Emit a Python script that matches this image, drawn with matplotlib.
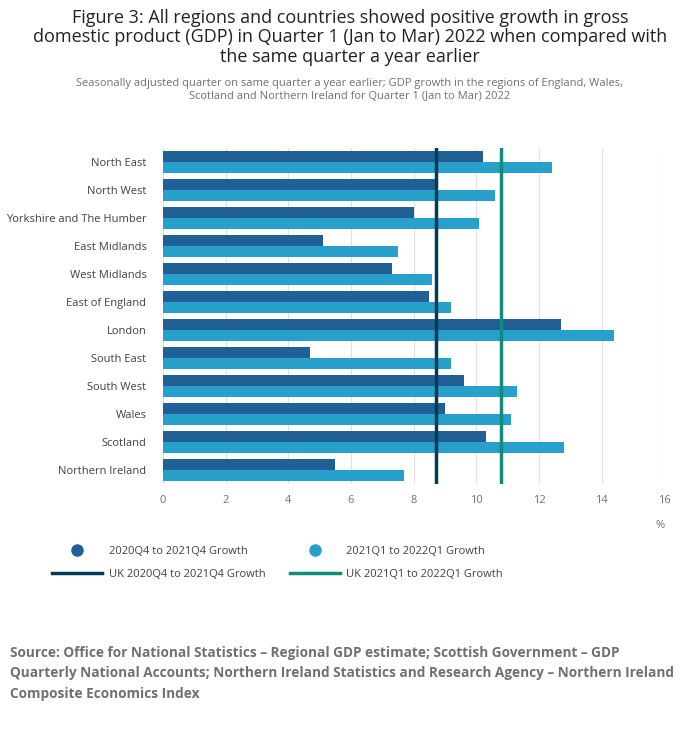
import matplotlib.pyplot as plt
from matplotlib.lines import Line2D
import numpy as np

plt.rcParams['font.family'] = ['Open Sans', 'DejaVu Sans']

regions = ['North East', 'North West', 'Yorkshire and The Humber', 'East Midlands',
           'West Midlands', 'East of England', 'London', 'South East', 'South West',
           'Wales', 'Scotland', 'Northern Ireland']
growth_2021q4 = [10.2, 8.7, 8.0, 5.1, 7.3, 8.5, 12.7, 4.7, 9.6, 9.0, 10.3, 5.5]
growth_2022q1 = [12.4, 10.6, 10.1, 7.5, 8.6, 9.2, 14.4, 9.2, 11.3, 11.1, 12.8, 7.7]
uk_2021q4 = 8.7
uk_2022q1 = 10.8

dark = '#206095'
light = '#27a0cc'

fig = plt.figure(figsize=(7, 7.32), dpi=100)
ax = fig.add_axes([0.233, 0.339, 0.716, 0.459])

y = np.arange(len(regions))
h = 0.4
ax.barh(y - h / 2, growth_2021q4, height=h, color=dark, zorder=2)
ax.barh(y + h / 2, growth_2022q1, height=h, color=light, zorder=2)
ax.axvline(uk_2021q4, color='#003c57', lw=2.5, zorder=3)
ax.axvline(uk_2022q1, color='#118c7b', lw=2.5, zorder=3)

ax.set_ylim(len(regions) - 0.5, -0.5)
ax.set_yticks(y)
ax.set_yticklabels(regions, fontsize=8, color='#414042')
ax.set_xlim(0, 16)
ax.set_xticks(range(0, 17, 2))
ax.tick_params(axis='x', labelsize=8, colors='#707070', length=0, pad=8)
ax.tick_params(axis='y', length=0, pad=12)
ax.grid(axis='x', color='#e0e0e0', lw=0.8, zorder=0)
for s in ax.spines.values():
    s.set_visible(False)
ax.text(1.0, -0.13, '%', transform=ax.transAxes, fontsize=8, color='#707070', ha='right')

fig.text(0.5, 0.988, 'Figure 3: All regions and countries showed positive growth in gross\n'
         'domestic product (GDP) in Quarter 1 (Jan to Mar) 2022 when compared with\n'
         'the same quarter a year earlier', ha='center', va='top', fontsize=13,
         color='#222222', linespacing=1.1)
fig.text(0.5, 0.893, 'Seasonally adjusted quarter on same quarter a year earlier; GDP growth in the regions of England, Wales,\n'
         'Scotland and Northern Ireland for Quarter 1 (Jan to Mar) 2022', ha='center', va='top',
         fontsize=8, color='#707070')

handles = [Line2D([], [], marker='o', ls='', color=dark, markersize=8),
           Line2D([], [], color='#003c57', lw=2.5),
           Line2D([], [], marker='o', ls='', color=light, markersize=8),
           Line2D([], [], color='#118c7b', lw=2.5)]
labels = ['2020Q4 to 2021Q4 Growth', 'UK 2020Q4 to 2021Q4 Growth',
          '2021Q1 to 2022Q1 Growth', 'UK 2021Q1 to 2022Q1 Growth']
fig.legend(handles, labels, ncol=2, loc='upper left', bbox_to_anchor=(0.06, 0.268),
           frameon=False, fontsize=8, labelcolor='#414042', columnspacing=2.2,
           handlelength=4.5, handletextpad=0.6, labelspacing=1.1)

fig.text(0.015, 0.118, 'Source: Office for National Statistics – Regional GDP estimate; Scottish Government – GDP\n'
         'Quarterly National Accounts; Northern Ireland Statistics and Research Agency – Northern Ireland\n'
         'Composite Economics Index', ha='left', va='top', fontsize=9.8, fontweight='bold',
         color='#707070', linespacing=1.6)

fig.savefig('out.png')
